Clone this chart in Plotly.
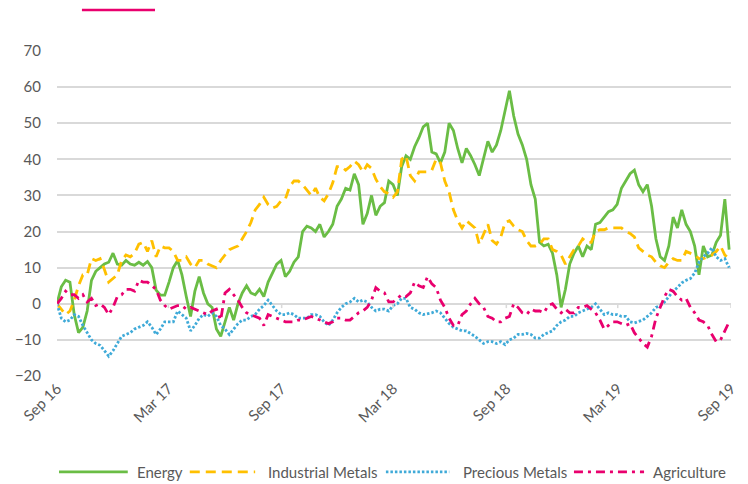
import pandas as pd
import plotly.graph_objects as go

# ---------------- data (weekly, % change since Sep 2016) ----------------
dates = pd.date_range("2016-09-01", periods=157, freq="7D")

energy = [
    0, 4.7, 6.5, 6, -3, -8, -6.5, -2, 6.5, 9, 10, 11, 11.5, 14, 11, 10.7, 12, 11, 10.7, 11.5, 10.7, 11.7, 10, 3.8, 2.4, 2.4, 6,
    10, 12, 8, 2, -3.5, 3.5, 7.5, 3, 0, -1, -7, -9, -5, -1, -4.5, 0, 3, 5, 3, 2.5, 4, 2, 6, 8.5, 11, 12,
    7.5, 9, 11.5, 13, 20, 21.5, 21, 20, 22, 18.5, 20, 22, 27, 29, 32, 31.5, 36, 33, 22, 25, 30, 24.5, 27, 28, 34, 33, 30,
    38, 41, 40, 43.5, 46, 49, 50, 42, 41.5, 39, 42, 50, 48, 43, 39, 43, 41, 38.5, 35.5, 40, 45, 42, 44, 48, 54, 59,
    52, 47, 44, 40, 33, 29, 17, 16, 16.5, 14, 8, -1, 4, 11, 14, 16, 13, 16, 15, 22, 22.5, 24, 25.5, 26, 27.5, 32,
    34, 36, 37, 33, 31, 33, 27, 18, 13, 12, 16, 24, 21, 26, 22, 20, 16, 8, 16, 13, 13.5, 17, 19, 29, 15,
]

industrial_metals = [
    0, -1.5, -3, -2, 1, 5, 8, 8, 12.5, 12, 12.5, 9.5, 6, 7, 8, 12, 13.5, 13, 14, 16.5, 17, 14.5, 17.5, 13, 16, 15.5, 15.5,
    14.5, 12, 12, 13, 11, 10, 12, 12, 11, 10.5, 10, 12, 13.5, 15, 15.5, 16, 18, 20, 22.5, 26, 27.5, 29.5, 27.5, 26.5, 27, 28.5,
    29, 32.5, 34, 34, 33, 31.5, 30, 32, 29.5, 28.5, 30.5, 33.5, 38, 38, 37, 38, 39.5, 38.5, 36.5, 38.5, 37.5, 34.5, 32.5, 31, 30.5, 29.5, 31,
    40, 41, 35.5, 34, 36.5, 36.5, 36.5, 37, 40, 39, 34, 31, 26, 23, 21, 23, 22, 21, 16.5, 19.5, 22, 17.5, 16.5, 18.5, 22.5, 23,
    21.5, 20.5, 20, 17.5, 16, 16, 16.5, 18, 18, 15, 14.5, 13.5, 11, 13, 15, 16, 18, 17, 17, 20, 20.5, 20.5, 21, 21, 21, 21,
    20, 19.5, 18.5, 15.5, 14.5, 13.5, 13, 11.5, 10.5, 10, 11.5, 12.5, 12, 12, 14.5, 14, 13.5, 12.5, 12.5, 13, 13.5, 14.5, 16, 13.5, 12.5,
]

precious_metals = [
    0, -4, -5, -4.5, -3, -3.5, -6, -8, -10, -11, -11.5, -13, -14.5, -13, -11, -9, -8.5, -8, -7, -6.5, -6, -5, -6.5, -8.5, -7, -5, -5,
    -5, -2, -3, -4, -7.5, -6, -4, -3, -3.5, -2.5, -3.5, -6, -7, -8.5, -7, -5.5, -4.5, -4.5, -3.5, -3, -1.5, -0.5, 1, -0.5, -2, -3,
    -3, -2.5, -3, -4, -4, -4, -3, -3, -3.5, -5, -6, -4.5, -2.5, -1, 0, 0.5, 1.5, 0.5, 1, 0.5, -1, -2, -1.5, -1.5, -2, -0.5, 0,
    1.5, 1.5, -1, -1.5, -2.5, -3, -2.8, -2.5, -2, -2.5, -4, -5.5, -6.5, -7, -7.5, -7.5, -8.2, -9, -10, -11, -10.5, -10.5, -11, -10.5, -11.3, -10,
    -9.5, -8.5, -8.5, -8.2, -8.5, -9.5, -9.5, -8.5, -8, -7.5, -6, -5, -4.5, -3.5, -3.5, -2.5, -2, -1.5, -1, 0, -1.5, -3, -2.5, -3, -3, -3.5,
    -3.5, -5, -5.3, -5, -4.5, -3.5, -2.5, -1, -0.5, 0.5, 2, 3.5, 4.5, 5.8, 6.5, 7, 8.5, 11.5, 13, 14, 15.5, 13, 12, 12.5, 10,
]

agriculture = [
    0, 1.5, 3.5, 2.5, 2.5, 1.5, 2.5, 0.5, 1.5, -0.5, 0, -1, -3, -1, 2, 2.5, 4, 4, 3.5, 6.5, 6, 6, 5, 4, 1, -0.5, -1.5,
    -1, -0.5, -0.5, -1.5, -1, -1.5, -2, -2.5, -3, -2, -1.5, -4.5, 3, 4, 2.5, 1, -1, -2.5, -3, -3.5, -4, -6, -3, -3.5, -4, -4.5,
    -5, -5, -5, -4.5, -4.5, -4, -3.5, -4, -4.5, -5, -5.5, -5, -4, -4, -4.5, -4.5, -3.5, -2.5, -2, -1, 1, 4.5, 3.5, 3, 0.5, 0.5, 1.5,
    2.5, 2, 3, 6, 5, 4.5, 7.5, 5.5, 4.5, 1, -1, -4, -6, -6, -3, -2, 0, 1.5, 0, -1, -3.5, -4, -5, -5, -4, -3.5,
    0, -1, -2.5, -3, -1.5, -2, -2, -2.5, -0.5, 0, -1.5, -2.5, -1.5, -2.5, -2.5, -1, -1, -0.5, -1.5, -2.5, -4.5, -7, -6, -5, -5, -5.5,
    -6, -5.5, -8, -9.5, -11, -12, -9, -4, -1, 2, 4, 3.5, 2, 1, 1.5, -1, -2.5, -4.5, -5, -6, -8.5, -10.5, -10, -7.5, -5,
]

series_names = ["Energy", "Industrial Metals", "Precious Metals", "Agriculture"]
tick_dates = ["2016-09-01", "2017-03-01", "2017-09-01", "2018-03-01", "2018-09-01", "2019-03-01", "2019-09-01"]
tick_labels = ["Sep 16", "Mar 17", "Sep 17", "Mar 18", "Sep 18", "Mar 19", "Sep 19"]
y_ticks = [-20, -10, 0, 10, 20, 30, 40, 50, 60, 70]

# ---------------- styling ----------------
colors = ["#6ABD45", "#FFC000", "#3FAAD8", "#E9006E"]
dashes = ["solid", "10px,6px", "2.5px,2px", "9px,5px,3px,5px"]
FONT = "Lato, 'Open Sans', sans-serif"
TXT = "#595959"
GRID = "#D9D9D9"
FS = 15

fig = go.Figure()
for name, vals, c, d in zip(series_names, [energy, industrial_metals, precious_metals, agriculture], colors, dashes):
    fig.add_trace(go.Scatter(x=dates, y=vals, mode="lines", name=name,
                             line=dict(color=c, width=2.8, dash=d), showlegend=False))

shapes = []
# small tick marks on the category axis (at y = 0)
for t in tick_dates:
    shapes.append(dict(type="line", xref="x", yref="y", x0=t, x1=t, y0=0, y1=-1.2,
                       line=dict(color=GRID, width=1.5)))
# stray pink line at the top-left
shapes.append(dict(type="line", xref="paper", yref="paper", x0=0.037, x1=0.1454, y0=1.126, y1=1.126,
                   line=dict(color=colors[3], width=2.5)))

# custom legend
leg_y = -0.295
leg_items = [(0.003, 0.105, 0.116), (0.197, 0.294, 0.310), (0.488, 0.582, 0.599), (0.767, 0.871, 0.881)]
annotations = []
for (x0, x1, xt), name, c, d in zip(leg_items, series_names, colors, dashes):
    shapes.append(dict(type="line", xref="paper", yref="paper", x0=x0, x1=x1, y0=leg_y, y1=leg_y,
                       line=dict(color=c, width=2.8, dash=d)))
    annotations.append(dict(xref="paper", yref="paper", x=xt, y=leg_y, text=name, showarrow=False,
                            xanchor="left", yanchor="middle", font=dict(family=FONT, size=FS, color=TXT)))

fig.update_layout(
    width=748, height=484,
    margin=dict(l=57, r=17, t=51, b=108),
    paper_bgcolor="white", plot_bgcolor="white",
    shapes=shapes, annotations=annotations,
    font=dict(family=FONT, size=FS, color=TXT),
    showlegend=False,
)
fig.update_xaxes(type="date", range=["2016-09-01", "2019-09-01"], tickvals=tick_dates, ticktext=tick_labels,
                 tickangle=-45, showgrid=False, showline=False, zeroline=False, ticks="",
                 tickfont=dict(family=FONT, size=FS, color=TXT), automargin=False)
fig.update_yaxes(range=[-20, 70], tickvals=y_ticks, showgrid=True, gridcolor=GRID, gridwidth=1.5,
                 zeroline=True, zerolinecolor=GRID, zerolinewidth=1.5, showline=False, ticks="",
                 ticklabelstandoff=15, tickfont=dict(family=FONT, size=FS, color=TXT), automargin=False)

fig.write_html("out.html", config={"displayModeBar": False},
               post_script="document.body.style.margin='0px';document.body.style.overflow='hidden';")
